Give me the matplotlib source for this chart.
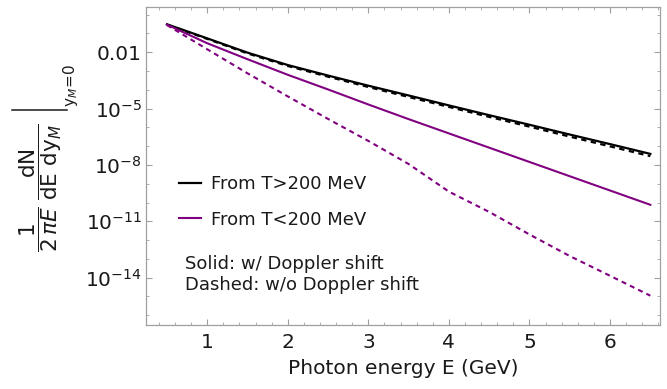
import numpy as np
import matplotlib
matplotlib.use("Agg")
import matplotlib.pyplot as plt
from matplotlib.lines import Line2D
from matplotlib.ticker import FixedLocator, FixedFormatter, NullFormatter

plt.rcParams['font.family'] = ['DejaVu Sans']
plt.rcParams['mathtext.fontset'] = 'dejavusans'

# Photon energy (GeV)
energy = [0.5, 1.0, 1.5, 2.0, 2.5, 3.0, 3.5, 4.0, 4.5, 5.0, 5.5, 6.0, 6.5]

# log10 of yields
log_hot_doppler = [-0.51, -1.26, -2.02, -2.68, -3.24, -3.78, -4.30, -4.83, -5.35, -5.86, -6.38, -6.89, -7.41]
log_hot_nodoppler = [-0.53, -1.29, -2.06, -2.73, -3.30, -3.85, -4.38, -4.91, -5.44, -5.96, -6.49, -7.01, -7.53]
log_cold_doppler = [-0.53, -1.52, -2.37, -3.20, -3.98, -4.78, -5.56, -6.32, -7.08, -7.84, -8.60, -9.36, -10.12]
log_cold_nodoppler = [-0.55, -1.84, -3.12, -4.35, -5.55, -6.72, -7.95, -9.42, -10.50, -11.70, -12.85, -13.90, -14.96]

labels = ["From T>200 MeV", "From T<200 MeV"]
xticks = [1, 2, 3, 4, 5, 6]
ytick_exps = [-2, -5, -8, -11, -14]
ytick_labels = ["0.01", r"$10^{-5}$", r"$10^{-8}$", r"$10^{-11}$", r"$10^{-14}$"]

black = "#000000"
purple = "#800080"
frame = "#a0a0a0"
txt = "#1a1a1a"

W, H = 667, 389
fig = plt.figure(figsize=(6.67, 3.89), dpi=100)
ax = fig.add_axes([146/W, 1-325/H, (660-146)/W, (325-7)/H])

x = np.array(energy)
dash = (2.4, 2.0)
ax.plot(x, 10**np.array(log_hot_nodoppler), color=black, lw=1.6, dashes=dash)
l1, = ax.plot(x, 10**np.array(log_hot_doppler), color=black, lw=1.6)
ax.plot(x, 10**np.array(log_cold_nodoppler), color=purple, lw=1.5, dashes=dash)
l2, = ax.plot(x, 10**np.array(log_cold_doppler), color=purple, lw=1.5)

ax.set_yscale('log')
ax.set_xlim(0.24, 6.62)
ax.set_ylim(10**-16.52, 10**0.41)

ax.xaxis.set_major_locator(FixedLocator(xticks))
ax.xaxis.set_minor_locator(FixedLocator(np.arange(0.4, 6.61, 0.2)))
ax.yaxis.set_major_locator(FixedLocator([10.0**e for e in ytick_exps]))
ax.yaxis.set_major_formatter(FixedFormatter(ytick_labels))
ax.yaxis.set_minor_locator(FixedLocator([10.0**e for e in range(0, -17, -1) if e not in ytick_exps]))
ax.yaxis.set_minor_formatter(NullFormatter())

for s in ax.spines.values():
    s.set_color(frame)
    s.set_linewidth(0.9)
ax.tick_params(which='both', direction='in', top=True, right=True, color=frame,
               labelcolor=txt, labelsize=14.5)
ax.tick_params(which='major', length=4.5, width=0.8)
ax.tick_params(which='minor', length=2.5, width=0.6)
ax.tick_params(axis='x', pad=6)
ax.tick_params(axis='y', pad=3)

ax.set_xlabel("Photon energy E (GeV)", fontsize=14.5, color=txt, labelpad=5)

# y-axis label: fractions, evaluation bar and its subscript
fig.text(41/W, 1-188/H,
         r"$\dfrac{1}{2\,\pi E}\;\dfrac{\mathrm{dN}}{\mathrm{dE\ dy}_M}$",
         rotation=90, ha='center', va='center', fontsize=15.5, color=txt)
fig.add_artist(Line2D([12/W, 67/W], [1-110/H, 1-110/H], lw=1.1, color=txt))
fig.text(71/W, 1-85/H, r"$\mathrm{y}_M\!=\!0$", rotation=90, ha='center', va='center',
         fontsize=11, color=txt)

leg = ax.legend([l1, l2], labels, loc='center left', bbox_to_anchor=(0.064, 0.387),
                frameon=False, fontsize=13, handlelength=1.2, handletextpad=0.6,
                labelspacing=0.95, borderpad=0, borderaxespad=0)
for t in leg.get_texts():
    t.set_color(txt)

ax.text(0.075, 0.192, "Solid: w/ Doppler shift", transform=ax.transAxes,
        ha='left', va='center', fontsize=13, color=txt)
ax.text(0.075, 0.126, "Dashed: w/o Doppler shift", transform=ax.transAxes,
        ha='left', va='center', fontsize=13, color=txt)

fig.savefig("out.png", dpi=100)
